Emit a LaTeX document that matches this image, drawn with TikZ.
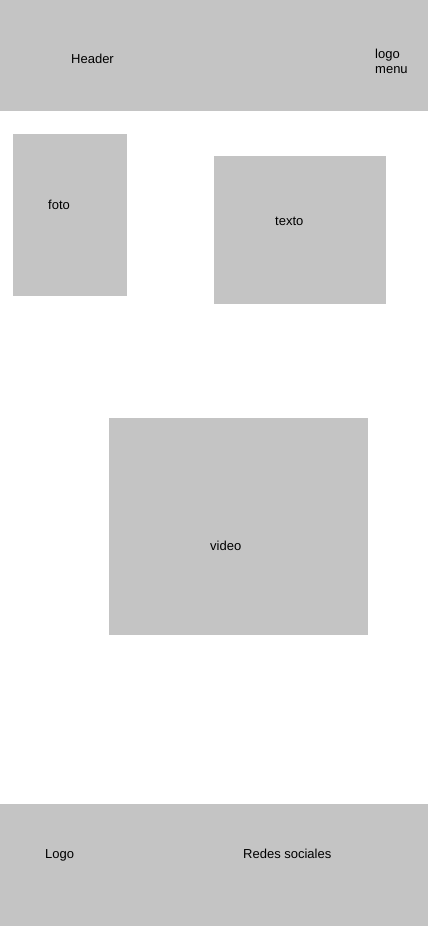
\documentclass[tikz,border=0pt]{standalone}
\usepackage{fontspec}
\setmainfont{Liberation Sans}
\definecolor{boxgray}{HTML}{C4C4C4}
\tikzstyle{block} = [rectangle, fill=boxgray, draw=none, inner sep=0pt, anchor=north west]
\tikzstyle{label} = [rectangle, inner sep=0pt, anchor=base west, font=\fontsize{13}{15}\selectfont]
\begin{document}
\begin{tikzpicture}[x=1pt, y=-1pt]
        \useasboundingbox (0,0) rectangle (428,926);
        % blocks
        \node[block, minimum width=428pt, minimum height=111pt] (header) at (0,0) {};
        \node[block, minimum width=114pt, minimum height=162pt] (foto) at (13,134) {};
        \node[block, minimum width=172pt, minimum height=148pt] (texto) at (214,156) {};
        \node[block, minimum width=259pt, minimum height=217pt] (video) at (109,418) {};
        \node[block, minimum width=428pt, minimum height=122pt] (footer) at (0,804) {};

        % texts
        \node[label] (headertxt) at (71,63) {Header};
        \node[label, align=left] (logomenu) at (375,73) {logo\\menu};
        \node[label] (fototxt) at (48,209) {foto};
        \node[label] (textotxt) at (275,225) {texto};
        \node[label] (videotxt) at (210,550) {video};
        \node[label] (logotxt) at (45,858) {Logo};
        \node[label] (redes) at (243,858) {Redes sociales};
\end{tikzpicture}
\end{document}
